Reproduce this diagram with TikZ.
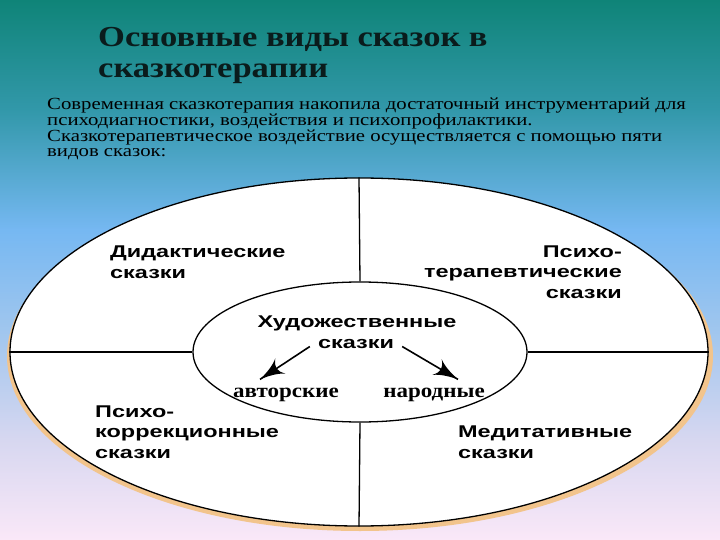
\documentclass[tikz,border=0pt]{standalone}
\usepackage{fontspec}
\setmainfont{Liberation Serif}
\newfontfamily\titlefont{Liberation Serif}[FakeStretch=1.19]
\newfontfamily\labelfont{Liberation Sans}[FakeStretch=1.38]
\newfontfamily\kindfont{Liberation Serif}[FakeStretch=1.15]
\newfontfamily\leadfont{Liberation Serif}[FakeStretch=1.22]
\usetikzlibrary{arrows}
\usetikzlibrary{decorations.markings}
\usetikzlibrary{shapes.geometric}
\definecolor{bgteal}{RGB}{15,132,120}
\definecolor{bgsea}{RGB}{50,152,170}
\definecolor{bgsky}{RGB}{118,184,242}
\definecolor{bgmist}{RGB}{160,198,238}
\definecolor{bglilac}{RGB}{215,215,240}
\definecolor{bgpink}{RGB}{250,232,248}
\definecolor{shadoworange}{RGB}{242,196,140}
\definecolor{titleink}{RGB}{10,28,28}
\tikzset{pointer/.style = {line width=1.6pt,
                           decoration={markings,
                                       mark=at position 1 with {\arrow[scale=3.2]{latex'}}},
                           postaction={decorate}}}
\tikzset{ring/.style = {ellipse, draw, line width=1.3pt, fill=white, inner sep=0pt},
         divider/.style = {line width=1.3pt},
         kind/.style = {font=\labelfont\bfseries\fontsize{17}{20.5}\selectfont, inner sep=0pt}}

\begin{document}
\begin{tikzpicture}[x=1pt, y=-1pt]
      \useasboundingbox (0, 0) rectangle (720, 540);
      % background bands
      \shade [top color=bgteal, bottom color=bgsea] (0, 0) rectangle (720, 110.5);
      \shade [top color=bgsea, bottom color=bgsky] (0, 110) rectangle (720, 230.5);
      \shade [top color=bgsky, bottom color=bgmist] (0, 230) rectangle (720, 330.5);
      \shade [top color=bgmist, bottom color=bglilac] (0, 330) rectangle (720, 440.5);
      \shade [top color=bglilac, bottom color=bgpink] (0, 440) rectangle (720, 540);
      \node [anchor=base west, inner sep=0pt, align=left, text=titleink,
             font=\titlefont\bfseries\fontsize{29}{31}\selectfont] (title) at (98, 78)
            {Основные виды сказок в\\сказкотерапии};
      \node [anchor=base west, inner sep=0pt, align=left,
             font=\leadfont\fontsize{17}{15.2}\selectfont] (lead) at (47, 157)
            {Современная сказкотерапия накопила достаточный инструментарий для\\
             психодиагностики, воздействия и психопрофилактики.\\
             Сказкотерапевтическое воздействие осуществляется с помощью пяти\\
             видов сказок:};
      % the wheel
      \node [ellipse, fill=shadoworange, inner sep=0pt, minimum width=706pt,
             minimum height=350pt] (shadow) at (360, 356) {};
      \node [ring, minimum width=698pt, minimum height=348pt] (outer) at (359, 352) {};
      \node [ring, minimum width=334pt, minimum height=140pt] (inner) at (360, 352) {};
      \draw [divider] (outer.north) -- (inner.north);
      \draw [divider] (inner.south) -- (outer.south);
      \draw [divider] (outer.west) -- (inner.west);
      \draw [divider] (inner.east) -- (outer.east);
      \node [kind, anchor=base west, align=left] (didactic) at (110, 278)
            {Дидактические\\сказки};
      \node [kind, anchor=base east, align=right] (therapy) at (622, 298)
            {Психо-\\терапевтические\\сказки};
      \node [kind, anchor=base west, align=left] (correction) at (95, 458)
            {Психо-\\коррекционные\\сказки};
      \node [kind, anchor=base west, align=left] (meditation) at (458, 458)
            {Медитативные\\сказки};
      \node [kind, anchor=base] (arta) at (357, 327) {Художественные};
      \node [kind, anchor=base] (artb) at (356, 348) {сказки};
      \node [anchor=base, inner sep=0pt, font=\kindfont\bfseries\fontsize{20}{22}\selectfont]
            (author) at (286, 397) {авторские};
      \node [anchor=base, inner sep=0pt, font=\kindfont\bfseries\fontsize{20}{22}\selectfont]
            (folk) at (434, 397) {народные};
      \draw [pointer] ([xshift=-8pt, yshift=-3pt]artb.west) -- ([xshift=-26pt, yshift=8pt]author.north);
      \draw [pointer] ([xshift=8pt, yshift=-3pt]artb.east) -- ([xshift=24pt, yshift=8pt]folk.north);
    \end{tikzpicture}
\end{document}
